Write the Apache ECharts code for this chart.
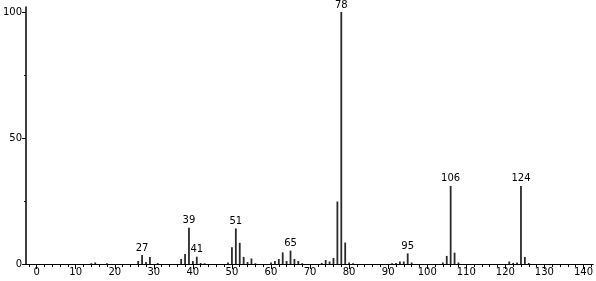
<!DOCTYPE html>
<html><head><meta charset="utf-8">
<script src="https://cdn.jsdelivr.net/npm/echarts@6/dist/echarts.min.js"></script>
<style>html,body{margin:0;padding:0;background:#fff}#c{width:596px;height:281px}</style>
</head><body><div id="c"></div>
<script>
const mz = [14,15,18,26,27,28,29,31,37,38,39,40,41,42,43,49,50,51,52,53,54,55,56,60,61,62,63,64,65,66,67,68,73,74,75,76,77,78,79,80,81,91,92,93,94,95,96,104,105,106,107,108,121,122,123,124,125,126];
const intensity = [0.3,0.6,0.3,1.2,3.6,0.8,2.8,0.4,2,4,14.4,1.2,2.9,0.4,0.3,0.6,6.6,14.1,8.4,2.8,0.8,2.2,0.3,0.6,1.2,2,4.6,1.2,5.3,2,1.2,0.3,0.4,1.6,1,2.4,24.8,100,8.5,0.6,0.3,0.3,0.4,1,1,4.2,0.6,0.6,3.2,31,4.5,0.6,1,0.4,0.6,31,2.8,0.4];
const labelledPeaks = [27,39,41,51,65,78,95,106,124];
const xMajorTicks = [0,10,20,30,40,50,60,70,80,90,100,110,120,130,140];
const xMinorTicks = [];
for (let v = -2; v <= 142; v += 2) if (v % 10 !== 0) xMinorTicks.push(v);
const yMajorTicks = [0,50,100];
const yMinorTicks = [25,75];

const font = 'DejaVu Sans';
const chart = echarts.init(document.getElementById('c'));
const X = {min:-2.7, max:142.5, type:'value'};
const Y = {min:0, max:102, type:'value'};
chart.setOption({
  animation:false,
  grid:{left:26,right:1,top:7,bottom:17,containLabel:false},
  xAxis:[
    Object.assign({}, X, {
      axisLine:{show:true,onZero:false,lineStyle:{color:'#000',width:1.2}},
      axisTick:{show:true,length:5,customValues:xMajorTicks,lineStyle:{color:'#000'}},
      axisLabel:{show:true,customValues:xMajorTicks,color:'#000',fontFamily:font,fontSize:10,margin:3},
      splitLine:{show:false}
    }),
    Object.assign({}, X, {
      position:'bottom',
      axisLine:{show:false,onZero:false},
      axisTick:{show:true,length:3,customValues:xMinorTicks,lineStyle:{color:'#000'}},
      axisLabel:{show:false},
      splitLine:{show:false}
    })
  ],
  yAxis:[
    Object.assign({}, Y, {
      axisLine:{show:true,onZero:false,lineStyle:{color:'#000',width:1.5}},
      axisTick:{show:true,length:4,customValues:yMajorTicks,lineStyle:{color:'#000'}},
      axisLabel:{show:true,customValues:yMajorTicks,color:'#000',fontFamily:font,fontSize:10,margin:4},
      splitLine:{show:false}
    }),
    Object.assign({}, Y, {
      position:'left',
      axisLine:{show:false,onZero:false},
      axisTick:{show:true,length:2,customValues:yMinorTicks,lineStyle:{color:'#000'}},
      axisLabel:{show:false},
      splitLine:{show:false}
    })
  ],
  series:[{
    type:'bar',
    xAxisIndex:0,yAxisIndex:0,
    barWidth:1.8,
    itemStyle:{color:'#2a2a2a'},
    data: mz.map((m,i)=>[m,intensity[i]]),
    label:{
      show:true,position:'top',distance:2,color:'#000',fontFamily:font,fontSize:10,
      formatter:p=>labelledPeaks.includes(p.value[0]) ? String(p.value[0]) : ''
    }
  }]
});
</script></body></html>
